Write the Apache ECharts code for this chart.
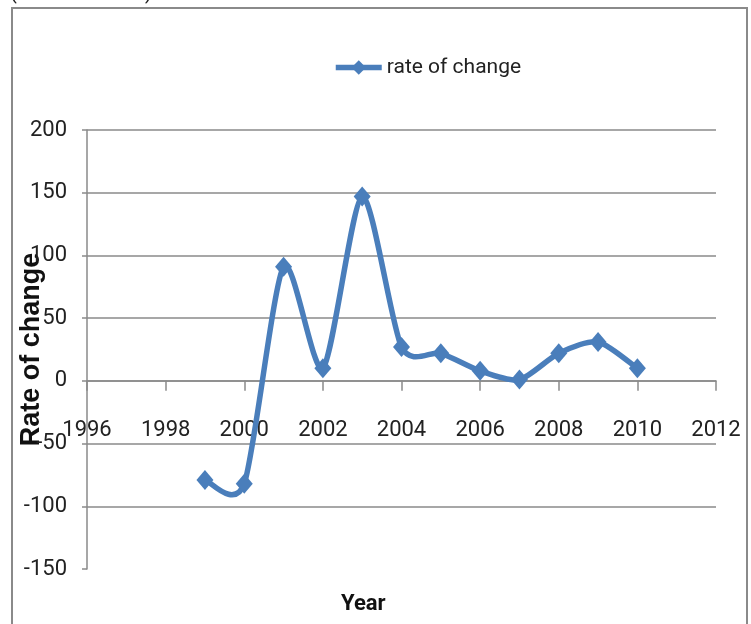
<!DOCTYPE html>
<html>
<head>
<meta charset="utf-8">
<script src="https://cdn.jsdelivr.net/npm/echarts@6/dist/echarts.min.js"></script>
<style>
html,body{margin:0;padding:0;background:#fff;}
#chart{width:751px;height:624px;}
</style>
</head>
<body>
<div id="chart"></div>
<script>
const years = [1999, 2000, 2001, 2002, 2003, 2004, 2005, 2006, 2007, 2008, 2009, 2010];
const rates = [-79, -82, 91, 10, 147, 27, 22, 8, 1, 22, 31, 10];
const seriesName = 'rate of change';
const xAxisTitle = 'Year';
const yAxisTitle = 'Rate of change';

const font = 'Roboto, "Noto Sans", sans-serif';
const lineColor = '#4A7EBB';
const gridColor = '#8a8a8a';
const tension = 0.125;

const points = years.map((y, i) => [y, rates[i]]);

function renderCurve(params, api) {
  const i = params.dataIndex;
  const n = points.length;
  if (i >= n - 1) return null;
  const p = (k) => api.coord(points[Math.max(0, Math.min(n - 1, k))]);
  const p0 = p(i - 1), p1 = p(i), p2 = p(i + 1), p3 = p(i + 2);
  return {
    type: 'bezierCurve',
    shape: {
      x1: p1[0], y1: p1[1], x2: p2[0], y2: p2[1],
      cpx1: p1[0] + (p2[0] - p0[0]) * tension,
      cpy1: p1[1] + (p2[1] - p0[1]) * tension,
      cpx2: p2[0] - (p3[0] - p1[0]) * tension,
      cpy2: p2[1] - (p3[1] - p1[1]) * tension
    },
    style: { stroke: lineColor, lineWidth: 5.5, fill: null, lineCap: 'round' }
  };
}

const chart = echarts.init(document.getElementById('chart'));
chart.setOption({
  animation: false,
  backgroundColor: '#fff',
  graphic: [
    { type: 'rect', shape: { x: 12, y: 8, width: 735, height: 640 }, style: { fill: 'none', stroke: '#8a8a8a', lineWidth: 2 } },
    { type: 'text', left: 10, top: -16, style: { text: '(', font: '20px ' + font, fill: '#222' } },
    { type: 'text', left: 145, top: -16, style: { text: ')', font: '20px ' + font, fill: '#222' } },
    { type: 'text', left: 341, top: 593, style: { text: xAxisTitle, font: 'bold 22px ' + font, fill: '#111' } }
  ],
  legend: {
    left: 333, top: 57, padding: 0,
    itemWidth: 46, itemHeight: 18,
    textStyle: { fontFamily: font, fontSize: 21, color: '#222' },
    data: [{ name: seriesName, lineStyle: { opacity: 1, width: 5.5 } }]
  },
  grid: { left: 87, right: 35, top: 130, bottom: 55, outerBoundsMode: 'none', containLabel: false },
  xAxis: {
    type: 'value', min: 1996, max: 2012, interval: 2,
    offset: -188.14,
    axisLine: { show: true, onZero: false, lineStyle: { color: gridColor, width: 1.5 } },
    axisTick: { show: true, length: 10, lineStyle: { color: gridColor, width: 1.5 } },
    axisLabel: { fontFamily: font, fontSize: 22, color: '#222', margin: 39, formatter: (v) => String(v) },
    splitLine: { show: false }
  },
  yAxis: {
    type: 'value', min: -150, max: 200, interval: 50,
    name: yAxisTitle, nameLocation: 'middle', nameGap: 42, nameMoveOverlap: false,
    nameTextStyle: { fontFamily: '"Liberation Sans", Arial, sans-serif', fontWeight: 'bold', fontSize: 27, color: '#111' },
    axisLine: { show: true, onZero: false, lineStyle: { color: gridColor, width: 1.5 } },
    axisTick: { show: true, length: 5, lineStyle: { color: gridColor, width: 1.5 } },
    axisLabel: { fontFamily: font, fontSize: 22, color: '#222', margin: 20 },
    splitLine: { show: true, showMinLine: false, lineStyle: { color: gridColor, width: 1.5 } }
  },
  series: [
    {
      name: 'curve',
      type: 'custom',
      data: points,
      encode: { x: 0, y: 1 },
      renderItem: renderCurve,
      silent: true,
      z: 3
    },
    {
      name: seriesName,
      type: 'line',
      data: points,
      symbol: 'diamond',
      symbolSize: [17, 20],
      lineStyle: { color: lineColor, width: 5.5, opacity: 0 },
      itemStyle: { color: lineColor },
      z: 5
    }
  ]
});
</script>
</body>
</html>
